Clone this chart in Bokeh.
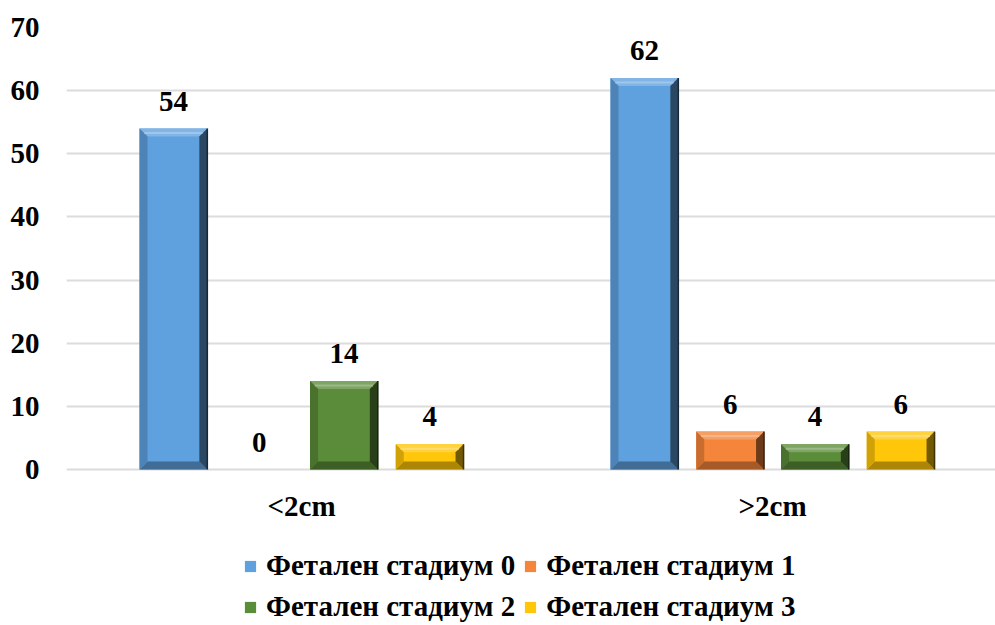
from bokeh.plotting import figure
from bokeh.models import (ColumnDataSource, Range1d, FixedTicker, Legend, LegendItem)
from bokeh.core.properties import value
from bokeh.embed import file_html
from bokeh.resources import INLINE

categories = ["<2cm", ">2cm"]
series_names = ["Фетален стадиум 0", "Фетален стадиум 1", "Фетален стадиум 2", "Фетален стадиум 3"]
stage0 = [54, 62]
stage1 = [0, 6]
stage2 = [14, 4]
stage3 = [4, 6]
yticks = [0, 10, 20, 30, 40, 50, 60, 70]

series_values = [stage0, stage1, stage2, stage3]
colors = ["#5FA0DE", "#F4853A", "#5B8C39", "#FFC60A"]
offsets = [-0.272, -0.09, 0.09, 0.272]
bar_w = 0.144

FONT = "Liberation Serif"
FS = "29px"

W, H = 995, 625
LEFT, TOP = 66, 27
FRAME_W = W - LEFT
PLOT_H = 442                # pixels from 0 to 70
FRAME_H = H - TOP           # frame extends to the bottom (room for labels + legend)
px_y = PLOT_H / 70.0
y_start = -(FRAME_H - PLOT_H) / px_y
x_start = -0.499
x_end = x_start + FRAME_W / 471.0

p = figure(width=W, height=H, output_backend="svg", toolbar_location=None,
           x_range=Range1d(x_start, x_end), y_range=Range1d(y_start, 70),
           min_border_left=LEFT, min_border_top=TOP, min_border_right=0,
           min_border_bottom=0)
p.outline_line_color = None
p.background_fill_color = "white"
p.border_fill_color = "white"
p.xaxis.visible = False

px_x = FRAME_W / (x_end - x_start)
bx = 8.0 / px_x
by = 8.0 / px_y


def mix(c, t, amt):
    r, g, b = int(c[1:3], 16), int(c[3:5], 16), int(c[5:7], 16)
    tr, tg, tb = t
    r = int(r + (tr - r) * amt); g = int(g + (tg - g) * amt); b = int(b + (tb - b) * amt)
    return "#%02x%02x%02x" % (r, g, b)


p.ygrid.grid_line_color = "#dcdcdc"
p.ygrid.grid_line_width = 2
p.xgrid.grid_line_color = None
p.yaxis.ticker = FixedTicker(ticks=yticks)
p.yaxis.axis_line_color = None
p.yaxis.major_tick_line_color = None
p.yaxis.minor_tick_line_color = None
p.yaxis.major_label_text_font = FONT
p.yaxis.major_label_text_font_style = "bold"
p.yaxis.major_label_text_font_size = FS
p.yaxis.major_label_text_color = "#000000"
p.yaxis.major_label_standoff = 21

# category labels (x axis) under the baseline
cat_src = ColumnDataSource(dict(x=list(range(len(categories))), y=[0] * len(categories), t=categories))
p.text(x="x", y="y", text="t", source=cat_src, text_align="center", text_baseline="middle",
       y_offset=36, text_font=value(FONT), text_font_style="bold", text_font_size=FS,
       text_color="#000000")

legend_items = []
for k, (name, vals, col) in enumerate(zip(series_names, series_values, colors)):
    xs_c = [i + offsets[k] for i in range(len(categories))]
    src = ColumnDataSource(dict(x=xs_c, top=vals, label=[str(v) for v in vals]))
    r = p.vbar(x="x", top="top", width=bar_w, bottom=0, source=src,
               fill_color=col, line_color=None)
    legend_items.append(LegendItem(label=name, renderers=[r]))

    pxs, pys, pcs = [], [], []
    for xc, v in zip(xs_c, vals):
        if v <= 0:
            continue
        l, rr = xc - bar_w / 2, xc + bar_w / 2
        b, t = 0, v
        byy = min(by, v / 2.0)
        pxs.append([l, rr, rr - bx, l + bx]); pys.append([t, t, t - byy, t - byy]); pcs.append(mix(col, (255, 255, 255), 0.22))
        pxs.append([l, rr, rr - bx, l + bx]); pys.append([b, b, b + byy, b + byy]); pcs.append(mix(col, (0, 0, 0), 0.32))
        pxs.append([l, l + bx, l + bx, l]); pys.append([b, b + byy, t - byy, t]); pcs.append(mix(col, (0, 0, 0), 0.18))
        pxs.append([rr, rr - bx, rr - bx, rr]); pys.append([b, b + byy, t - byy, t]); pcs.append(mix(col, (0, 0, 0), 0.55))
    if pxs:
        p.patches(xs=pxs, ys=pys, fill_color=pcs, line_color=None)
        hx0 = [xc - bar_w / 2 + bx * 0.6 for xc, v in zip(xs_c, vals) if v > 0]
        hx1 = [xc + bar_w / 2 - bx * 0.6 for xc, v in zip(xs_c, vals) if v > 0]
        hy = [v - min(by, v / 2.0) * 0.55 for v in vals if v > 0]
        p.segment(x0=hx0, y0=hy, x1=hx1, y1=hy, line_color=mix(col, (255, 255, 255), 0.4), line_width=2)
        rx = [xc + bar_w / 2 for xc, v in zip(xs_c, vals) if v > 0]
        ry = [v for v in vals if v > 0]
        p.segment(x0=rx, y0=[0] * len(rx), x1=rx, y1=ry, line_color=mix(col, (0, 0, 0), 0.75), line_width=1.5)

    p.text(x="x", y="top", text="label", source=src, text_align="center",
           text_baseline="bottom", y_offset=-18, text_font=value(FONT),
           text_font_style="bold", text_font_size=FS, text_color="#000000")

legend = Legend(items=legend_items, orientation="horizontal", ncols=2,
                location=(177, 2), border_line_color=None,
                background_fill_alpha=0,
                label_text_font=FONT, label_text_font_style="bold",
                label_text_font_size=FS, label_text_color="#000000",
                glyph_width=14, glyph_height=14, label_standoff=9,
                spacing=8, margin=0, padding=0, label_height=30)
p.add_layout(legend, "center")

open("out.html", "w").write(file_html(p, INLINE))
